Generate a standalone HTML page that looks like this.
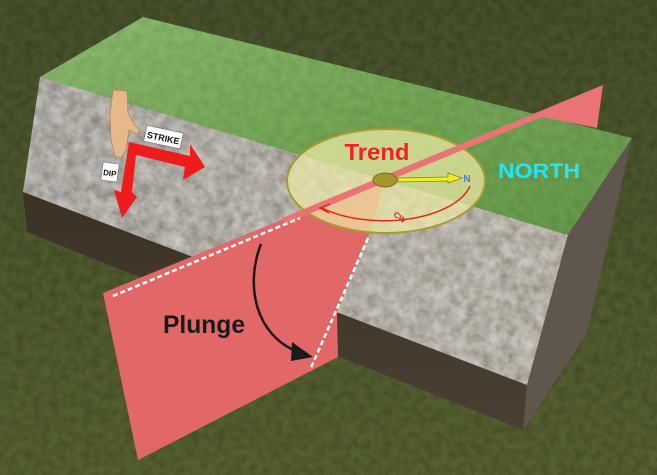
<!DOCTYPE html>
<html><head><meta charset="utf-8"><style>
html,body{margin:0;padding:0;background:#4d5829;}
svg{display:block;}
</style></head><body>
<svg width="657" height="475" viewBox="0 0 657 475" xmlns="http://www.w3.org/2000/svg">
<defs>
<filter id="noise" x="0" y="0" width="100%" height="100%">
<feTurbulence type="fractalNoise" baseFrequency="0.12" numOctaves="3" seed="3"/>
<feColorMatrix type="matrix" values="0 0 0 0 0  0 0 0 0 0  0 0 0 0 0  0 0 0 -1.6 1.1"/>
</filter>
<filter id="noise2" x="0" y="0" width="100%" height="100%">
<feTurbulence type="fractalNoise" baseFrequency="0.06" numOctaves="3" seed="8"/>
<feColorMatrix type="matrix" values="0 0 0 0 1  0 0 0 0 1  0 0 0 0 1  0 0 0 -1.8 1.2"/>
</filter>
<linearGradient id="bg" x1="0" y1="0" x2="0" y2="1">
<stop offset="0" stop-color="#46502a"/><stop offset="1" stop-color="#55602f"/>
</linearGradient>
<linearGradient id="grass" x1="0" y1="0" x2="1" y2="1">
<stop offset="0" stop-color="#8cba70"/><stop offset="0.5" stop-color="#74a656"/><stop offset="1" stop-color="#64984a"/>
</linearGradient>
<linearGradient id="rock" x1="0" y1="0" x2="1" y2="0">
<stop offset="0" stop-color="#aeaba4"/><stop offset="1" stop-color="#bab4a8"/>
</linearGradient>
<linearGradient id="soil" x1="0" y1="0" x2="0" y2="1">
<stop offset="0" stop-color="#3b3124"/><stop offset="1" stop-color="#4a3f33"/>
</linearGradient>
<clipPath id="rockclip"><polygon points="40,77 568,235 527,385 23,192"/></clipPath>
<clipPath id="grassclip"><polygon points="143,17 632,138 568,235 40,77"/></clipPath>
</defs>
<rect width="657" height="475" fill="url(#bg)"/>
<rect width="657" height="475" filter="url(#noise)" opacity="0.2"/>

<!-- grass top -->
<polygon points="143,17 632,138 568,235 40,77" fill="url(#grass)"/>
<g clip-path="url(#grassclip)"><rect width="657" height="475" filter="url(#noise)" opacity="0.1"/></g>
<!-- rock face -->
<polygon points="40,77 568,235 527,385 23,192" fill="url(#rock)"/>
<g clip-path="url(#rockclip)">
<rect width="657" height="475" filter="url(#noise)" opacity="0.25"/>
<rect width="657" height="475" filter="url(#noise2)" opacity="0.35"/>
</g>
<!-- soil -->
<polygon points="23,192 527,385 523,430 27,232" fill="url(#soil)"/>
<!-- right face -->
<polygon points="568,235 632,138 587,333 523,430 527,385" fill="#5f564d"/>

<!-- lower pink plane -->
<polygon points="386,177 369,233 337,313 338,357 138,460 103,293" fill="#e26767"/>
<!-- disk -->
<ellipse cx="386" cy="181" rx="99" ry="52" fill="#efeaa6" fill-opacity="0.72" stroke="#a99a32" stroke-width="2"/>
<!-- band + upper wedge -->
<polygon points="603,85 597,128 542,117 285,224 282,218" fill="#e87474"/>

<!-- disk content -->
<text x="377" y="160" font-family="Liberation Sans, sans-serif" font-weight="bold" font-size="23" fill="#f02222" text-anchor="middle" textLength="65" lengthAdjust="spacingAndGlyphs">Trend</text>
<ellipse cx="385" cy="180" rx="12" ry="7" fill="#a3952f" stroke="#807020" stroke-width="1"/>
<polygon points="398,178 448,177 448,173 462,178 448,183 448,181 398,182" fill="#eef020" stroke="#888020" stroke-width="0.8"/>
<text x="467" y="182" font-family="Liberation Sans, sans-serif" font-weight="bold" font-size="10" fill="#4a7ad8" text-anchor="middle">N</text>
<path d="M 470,186 A 88 44 0 0 1 322,208" fill="none" stroke="#e82020" stroke-width="1.5"/>
<path d="M 330,204 L 320,208 L 329,213" fill="none" stroke="#e82020" stroke-width="1.5"/>
<text x="400" y="220" font-family="Liberation Sans, sans-serif" font-weight="bold" font-size="8" fill="#e82020" transform="rotate(35 400 217)" text-anchor="middle">CW</text>

<!-- dashed lines -->
<line x1="113" y1="296" x2="300" y2="218" stroke="#fff" stroke-width="2.5" stroke-dasharray="5,3"/>
<line x1="368" y1="238" x2="310" y2="370" stroke="#fff" stroke-width="2.5" stroke-dasharray="5,3"/>

<!-- plunge -->
<text x="163" y="333" font-family="Liberation Sans, sans-serif" font-weight="bold" font-size="25" fill="#1a1a1a" textLength="82" lengthAdjust="spacingAndGlyphs">Plunge</text>
<path d="M 261,244 C 245,285 255,335 298,352" fill="none" stroke="#1a1a1a" stroke-width="2.5"/>
<polygon points="313,357 292,342 291,361" fill="#1a1a1a"/>

<!-- NORTH -->
<text x="498" y="178" font-family="Liberation Sans, sans-serif" font-weight="bold" font-size="21" fill="#22e6f2" textLength="82" lengthAdjust="spacingAndGlyphs">NORTH</text>

<!-- hand -->
<path d="M 113,90 L 127,91 L 128,113 L 134,124 L 140,131 L 137,134 L 129,130 L 126,150 L 121,158 L 115,156 L 111,140 L 110,115 Z" fill="#e7b98a" stroke="#b08660" stroke-width="0.8"/>
<!-- strike/dip arrows -->
<polygon points="129,142 190,156 190,144 205,167 183,180 185,167 136,155 132,192 137,197 122,218 114,190 121,192" fill="#ee1c1c"/>
<!-- labels -->
<g transform="rotate(12 163 137)">
<rect x="145" y="129" width="37" height="16" fill="#fff" stroke="#666" stroke-width="0.5"/>
<text x="163.5" y="141" font-family="Liberation Sans, sans-serif" font-weight="bold" font-size="9" fill="#111" text-anchor="middle">STRIKE</text>
</g>
<g transform="rotate(8 110 172)">
<rect x="102" y="163" width="16" height="18" fill="#fff" stroke="#666" stroke-width="0.5"/>
<text x="110" y="176" font-family="Liberation Sans, sans-serif" font-weight="bold" font-size="8" fill="#111" text-anchor="middle">DIP</text>
</g>
</svg>
</body></html>
